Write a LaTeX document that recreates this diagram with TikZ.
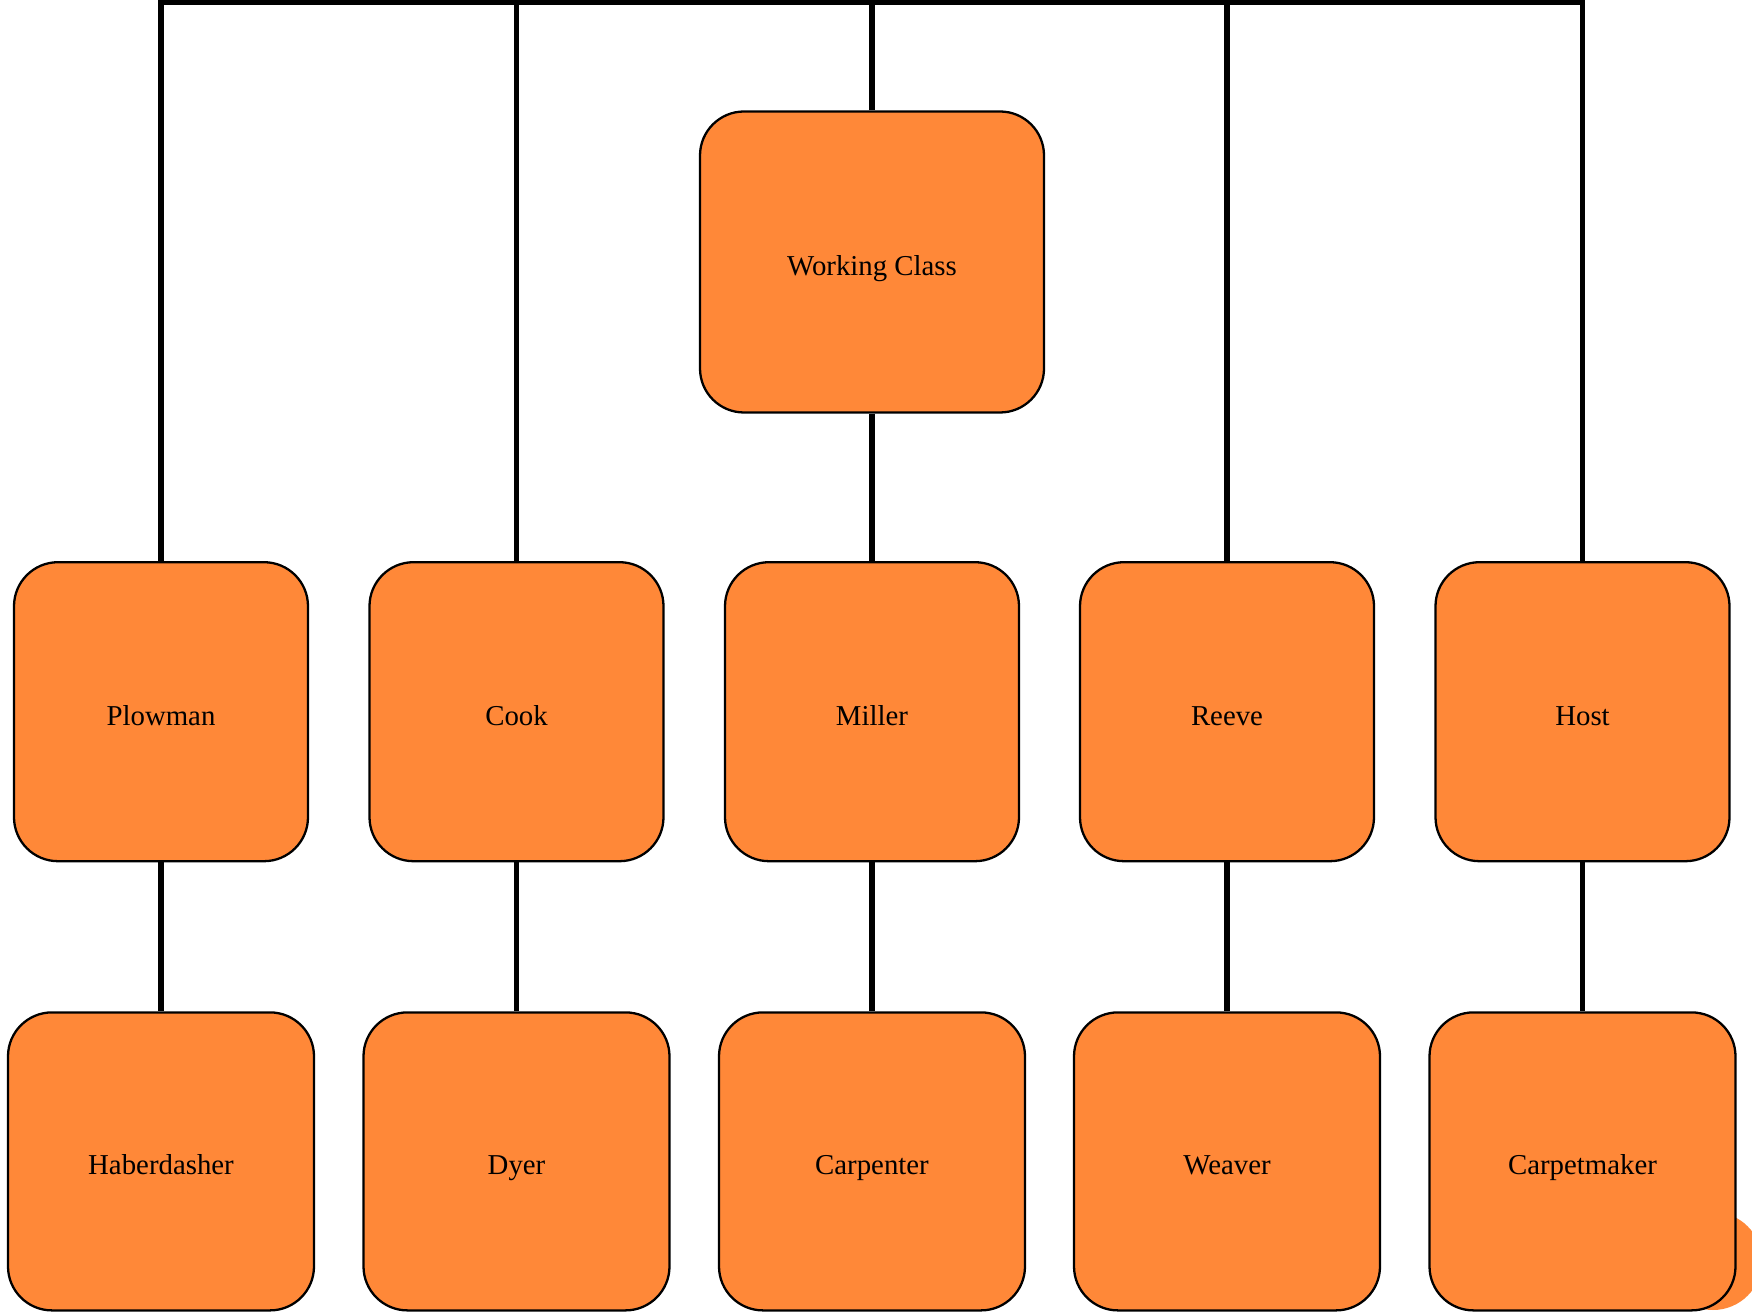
\documentclass[tikz,border=0pt]{standalone}
\usepackage{fontspec}
\setmainfont{Liberation Serif}
\usetikzlibrary{calc}
\definecolor{boxorange}{HTML}{FF8838}

\tikzset{
  role/.style={draw=black,line width=0.65pt,fill=boxorange,rounded corners=0.44cm,
    inner sep=0pt,align=center,text height=0.96em,text depth=0.2em,
    font=\fontsize{8.2}{10}\selectfont},
  midrole/.style={role,minimum width=2.94cm,minimum height=2.99cm},
  lowrole/.style={role,minimum width=3.06cm,minimum height=2.98cm},
  link/.style={draw=black,line width=1.6pt}
}

\begin{document}
\begin{tikzpicture}

  \useasboundingbox (0,0) rectangle (17.52,13.13);

  % ---- Stray dot behind the last box ------------------------
  \fill[boxorange] (17.13,0.52) circle (0.49);

  % ---- Top of the chart ------------------------------------
  \node[role,minimum width=3.44cm,minimum height=3.01cm] (working) at (8.72,10.51) {Working Class};
  \coordinate (topbar) at (8.72,13.11);

  % ---- Middle row ------------------------------------------
  \node[midrole] (plowman) at ( 1.61,6.013) {Plowman};
  \node[midrole] (cook)    at ( 5.165,6.013) {Cook};
  \node[midrole] (miller)  at ( 8.72,6.013) {Miller};
  \node[midrole] (reeve)   at (12.27,6.013) {Reeve};
  \node[midrole] (host)    at (15.825,6.013) {Host};

  % ---- Bottom row ------------------------------------------
  \node[lowrole] (haberdasher) at ( 1.61,1.516) {Haberdasher};
  \node[lowrole] (dyer)        at ( 5.165,1.516) {Dyer};
  \node[lowrole] (carpenter)   at ( 8.72,1.516) {Carpenter};
  \node[lowrole] (weaver)      at (12.27,1.516) {Weaver};
  \node[lowrole] (carpetmaker) at (15.825,1.516) {Carpetmaker};

  % ---- Connectors ------------------------------------------
  \draw[link] (plowman.north) |- (topbar) -| (host.north);
  \draw[link] (cook.north) -- (cook.north |- topbar);
  \draw[link] (reeve.north) -- (reeve.north |- topbar);
  \draw[link] (working.north) -- (topbar);
  \draw[link] (working.south) -- (miller.north);
  \draw[link] (plowman.south) -- (haberdasher.north);
  \draw[link] (cook.south) -- (dyer.north);
  \draw[link] (miller.south) -- (carpenter.north);
  \draw[link] (reeve.south) -- (weaver.north);
  \draw[link] (host.south) -- (carpetmaker.north);

\end{tikzpicture}
\end{document}
